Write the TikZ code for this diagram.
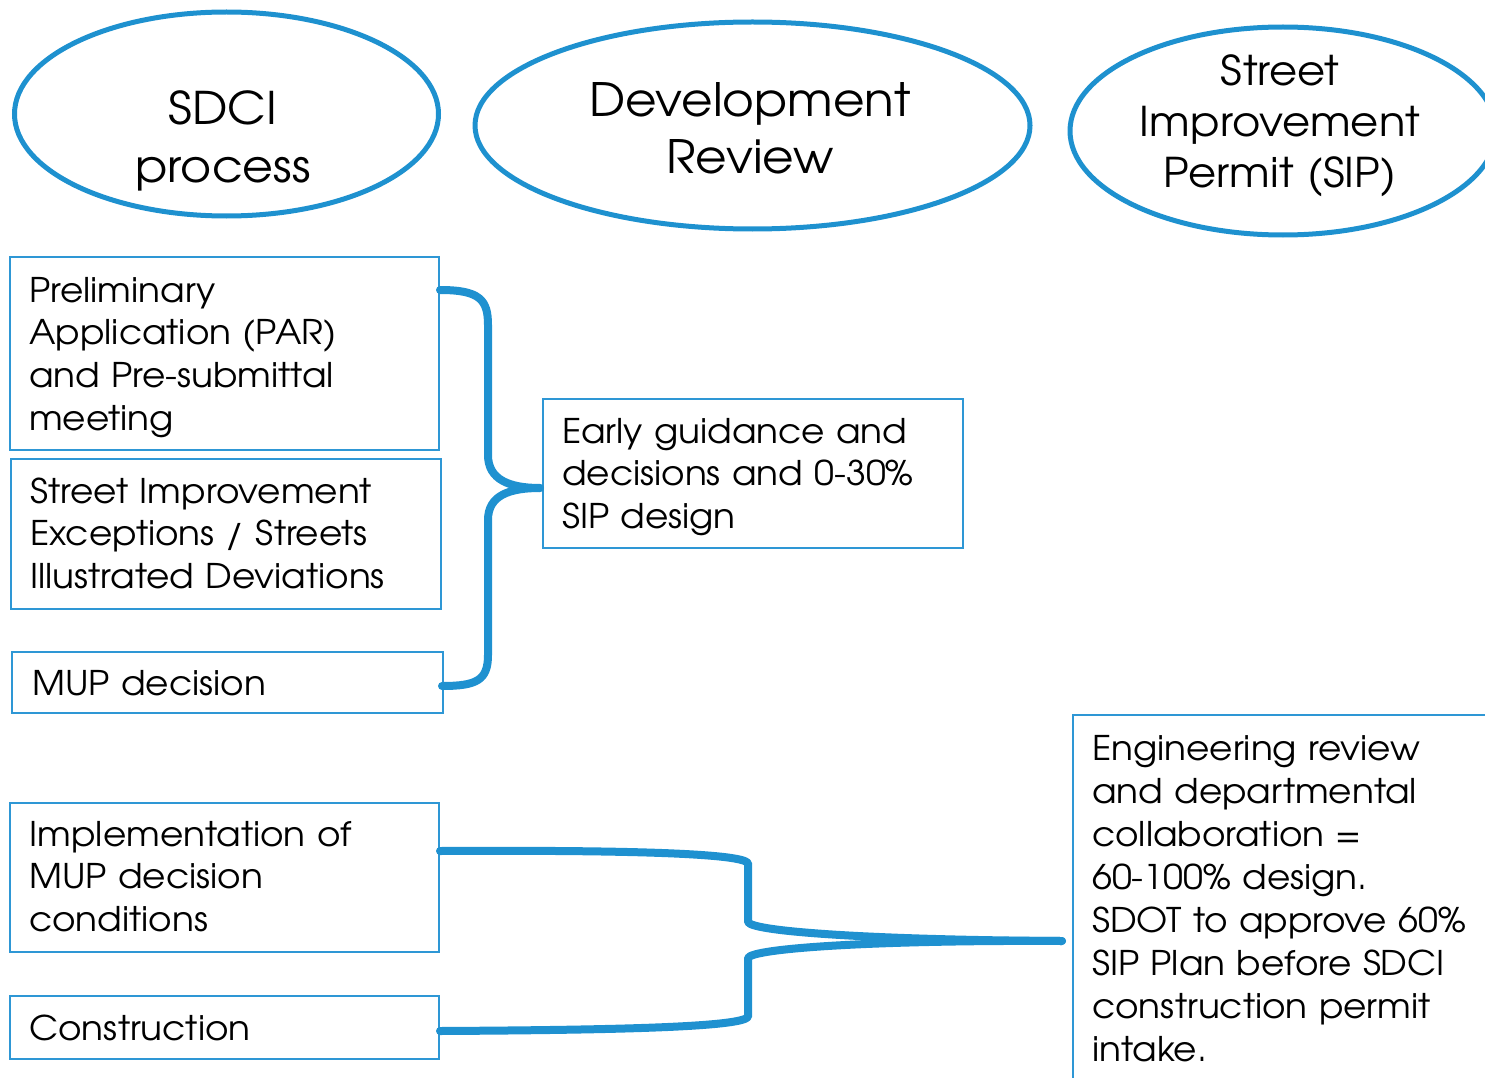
\documentclass[tikz,border=0pt]{standalone}
\usepackage{fontspec}
\setmainfont{texgyreadventor-regular.otf}[FakeStretch=1.055]
\usetikzlibrary{shapes.geometric,calc}
\definecolor{ovalblue}{HTML}{1E91CF}
\definecolor{boxblue}{HTML}{2E97D5}
\definecolor{connblue}{HTML}{1F91D0}
\begin{document}
\begin{tikzpicture}[x=1pt,y=-1pt,
  oval/.style={draw=ovalblue,line width=5pt,ellipse,inner sep=0pt},
  ovaltext/.style={inner sep=0pt,text width=500pt,align=center,anchor=base},
  box/.style={draw=boxblue,line width=2pt,rectangle,inner sep=0pt,anchor=north west},
  boxtext/.style={inner sep=0pt,text width=420pt,align=left,anchor=base west,font=\fontsize{34pt}{42.7pt}\selectfont},
  conn/.style={draw=connblue,line width=8pt,line cap=round,line join=round}]
\useasboundingbox (0,0) rectangle (1485,1078);
% ovals
\node[oval,minimum width=424pt,minimum height=204pt] (e1) at (226.5,114) {};
\node[oval,minimum width=555pt,minimum height=207pt] (e2) at (752.5,125.5) {};
\node[oval,minimum width=426pt,minimum height=208pt] (e3) at (1283,131) {};
\node[ovaltext,font=\fontsize{45pt}{58pt}\selectfont] (e1t) at (223,125) {SDCI\\process};
\node[ovaltext,font=\fontsize{46pt}{57pt}\selectfont] (e2t) at (750,117) {Development\\Review};
\node[ovaltext,font=\fontsize{41pt}{51pt}\selectfont] (e3t) at (1280,86) {Street\\Improvement\\Permit (SIP)};
% boxes
\node[box,minimum width=429pt,minimum height=193pt] (b1) at (9,256) {};
\node[box,minimum width=430pt,minimum height=150pt] (b2) at (10,458) {};
\node[box,minimum width=431pt,minimum height=61pt] (b3) at (11,651) {};
\node[box,minimum width=420pt,minimum height=149pt] (b4) at (542,398) {};
\node[box,minimum width=429pt,minimum height=149pt] (b5) at (9,802) {};
\node[box,minimum width=429pt,minimum height=63pt] (b6) at (9,995) {};
\node[box,minimum width=500pt,minimum height=450pt] (b7) at (1072,714) {};
% box texts
\node[boxtext] (t1) at (29,302) {Preliminary\\Application (PAR)\\and Pre-submittal\\meeting};
\node[boxtext] (t2) at (30,503) {Street Improvement\\Exceptions / Streets\\Illustrated Deviations};
\node[boxtext] (t3) at (32,695) {MUP decision};
\node[boxtext] (t4) at (562,443) {Early guidance and\\decisions and 0-30\%\\SIP design};
\node[boxtext] (t5) at (29,846) {Implementation of\\MUP decision\\conditions};
\node[boxtext] (t6) at (29,1040) {Construction};
\node[boxtext,font=\fontsize{34pt}{43pt}\selectfont] (t7) at (1092,760) {Engineering review\\and departmental\\collaboration =\\60-100\% design.\\SDOT to approve 60\%\\SIP Plan before SDCI\\construction permit\\intake.};
% brace connector
\coordinate (bt) at ($(b1.north east)+(0,34)$);
\coordinate (tip) at ($(b4.west)+(-2,14.5)$);
\coordinate (bb) at ($(b3.east)+(-2,3.5)$);
\draw[conn] (bt) .. controls +(40,0) and +(0,-25) .. (488,325) -- (488,455) .. controls +(0,25) and +(-30,0) .. (tip);
\draw[conn] (tip) .. controls +(-30,0) and +(0,-25) .. (488,520) -- (488,655) .. controls +(0,25) and +(35,0) .. (bb);
% bottom connector
\coordinate (c5) at ($(b5.east)+(0,-26.5)$);
\coordinate (c6) at ($(b6.east)+(0,3.5)$);
\coordinate (m) at ($(b7.west)+(-10,1)$);
\draw[conn] (c5) .. controls (620,850) and (740,853) .. (748,863) -- (748,922) .. controls (752,932) and (880,940) .. (m);
\draw[conn] (c6) .. controls (620,1030) and (740,1027) .. (748,1017) -- (748,958) .. controls (752,948) and (880,940) .. (m);
\end{tikzpicture}
\end{document}
